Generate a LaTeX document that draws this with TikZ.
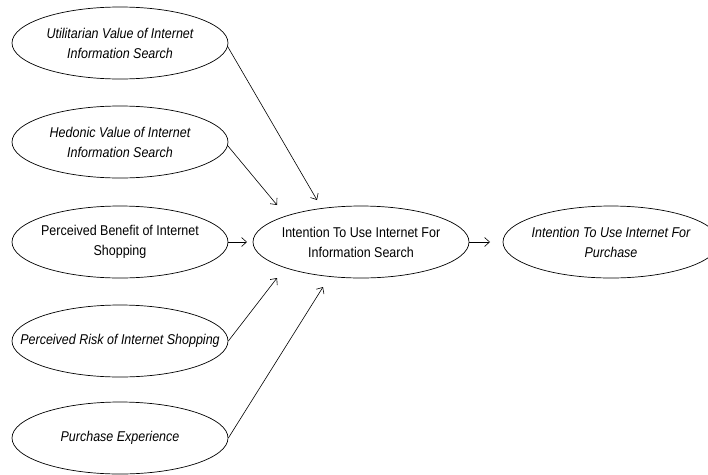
\documentclass[tikz,border=0pt]{standalone}
\usepackage{fontspec}
\setmainfont{Liberation Sans}[FakeStretch=0.88]
\usetikzlibrary{shapes.geometric,arrows.meta}
\begin{document}
\begin{tikzpicture}[x=1pt,y=-1pt,
  oval/.style={draw,ellipse,line width=0.7pt,minimum width=216pt,minimum height=72pt,inner sep=0pt},
  lbl/.style={align=center,inner sep=0pt,font=\fontsize{14.2}{20}\selectfont},
  conn/.style={line width=0.6pt,-{Straight Barb[length=5pt,width=9pt]}}]
\useasboundingbox (0,0) rectangle (708,474);
\node[oval] (u) at (120,43) {};
\node[lbl] (ut) at (u) {\itshape Utilitarian Value of Internet\\\itshape Information Search};
\node[oval] (h) at (120,142) {};
\node[lbl] (ht) at (h) {\itshape Hedonic Value of Internet\\\itshape Information Search};
\node[oval] (b) at (120,242) {};
\node[lbl] (bt) at (b) {Perceived Benefit of Internet\\Shopping};
\node[oval] (r) at (120,341) {};
\node[lbl] (rt) at (r) {\itshape Perceived Risk of Internet Shopping};
\node[oval] (p) at (120,438) {};
\node[lbl] (pt) at (p) {\itshape Purchase Experience};
\node[oval] (c) at (361,242) {};
\node[lbl] (ct) at (c) {Intention To Use Internet For\\Information Search};
\node[oval] (f) at (611,242) {};
\node[lbl] (ft) at (f) {\itshape Intention To Use Internet For\\\itshape Purchase};
\coordinate (e1) at (317,200);
\coordinate (e2) at (277,205);
\coordinate (e3) at (247,242);
\coordinate (e4) at (277,278);
\coordinate (e5) at (323,287);
\coordinate (e6) at (490,242);
\draw[conn] (u.-2) -- (e1);
\draw[conn] (h.-2) -- (e2);
\draw[conn] (b.east) -- (e3);
\draw[conn] (r.east) -- (e4);
\draw[conn] (p.east) -- (e5);
\draw[conn] (c.east) -- (e6);
\end{tikzpicture}
\end{document}
